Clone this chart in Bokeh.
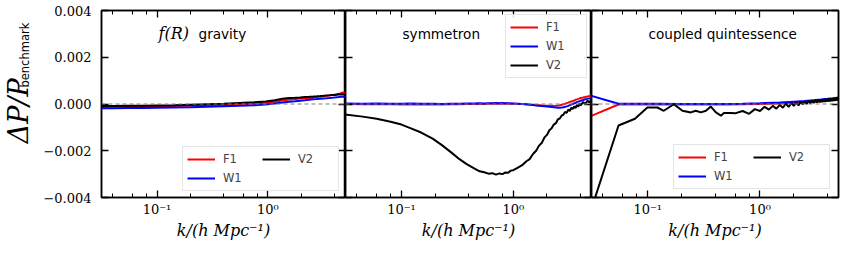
from bokeh.plotting import figure
from bokeh.models import (LogAxis, LinearAxis, Span, Label, Legend, LegendItem,
                          CustomJSTickFormatter, FixedTicker, LogTicker, Range1d)
from bokeh.layouts import row
from bokeh.embed import file_html
from bokeh.resources import INLINE

# ---------------- data ----------------
X_RANGE = [0.0316, 5.0]
Y_RANGE = [-0.004, 0.004]
Y_TICKS = [-0.004, -0.002, 0.0, 0.002, 0.004]
SERIES_NAMES = ["F1", "W1", "V2"]
PANEL_TITLES = ["gravity", "symmetron", "coupled quintessence"]

# f(R) gravity
K_FR = [0.031, 0.04, 0.055, 0.075, 0.1, 0.14, 0.2, 0.28, 0.4, 0.55, 0.75, 0.95, 1.15, 1.35, 1.55,
        1.75, 1.95, 2.15, 2.35, 2.55, 2.75, 2.95, 3.15, 3.35, 3.55, 3.75, 3.95, 4.15, 4.35, 4.55, 4.75, 4.95]
FR_F1 = [-0.00013, -0.00012, -0.00012, -0.00011, -0.0001, -0.00009, -0.00008, -0.00006, -0.00004, -0.00002,
         0.00001, 0.00005, 0.0001, 0.00015, 0.00019, 0.00021, 0.00023, 0.00025, 0.00026, 0.00028, 0.0003,
         0.00031, 0.00033, 0.00035, 0.00036, 0.00038, 0.0004, 0.00042, 0.00044, 0.00046, 0.00049, 0.00047]
FR_W1 = [-0.00018, -0.00018, -0.00017, -0.00017, -0.00016, -0.00015, -0.00014, -0.00012, -0.0001, -0.00008,
         -0.00005, -0.00002, 0.00002, 0.00006, 0.0001, 0.00012, 0.00014, 0.00016, 0.00018, 0.0002, 0.00021,
         0.00022, 0.00024, 0.00025, 0.00026, 0.00027, 0.00028, 0.00029, 0.0003, 0.00031, 0.00032, 0.00031]
FR_V2 = [-0.00009, -0.00009, -0.00008, -0.00007, -0.00006, -0.00005, -0.00003, -0.00001, 0.00001, 0.00004,
         0.00007, 0.00011, 0.00016, 0.00022, 0.00026, 0.00027, 0.00028, 0.0003, 0.00031, 0.00032, 0.00033,
         0.00034, 0.00035, 0.00036, 0.00037, 0.00038, 0.00039, 0.0004, 0.00041, 0.00041, 0.00042, 0.00042]

# symmetron
K_SY = [0.031, 0.045, 0.06, 0.08, 0.1, 0.12, 0.15, 0.19, 0.23, 0.28, 0.33, 0.38, 0.45, 0.5, 0.55,
        0.6, 0.65, 0.7, 0.75, 0.8, 0.85, 0.9, 0.95, 1.0, 1.1, 1.2, 1.3, 1.4, 1.5, 1.6,
        1.7, 1.8, 1.9, 2.0, 2.1, 2.2, 2.3, 2.4, 2.5, 2.6, 2.7, 2.8, 2.9, 3.0, 3.1,
        3.2, 3.3, 3.4, 3.5, 3.6, 3.7, 3.8, 3.9, 4.0, 4.2, 4.4, 4.6, 4.8, 5.0]
SY_F1 = [0.0, -0.00001, 0.0, -0.00001, -0.00002, -0.00001, -0.00002, -0.00001, -0.00002, -0.00001,
         -0.00001, 0.0, 0.0, 0.00001, 0.0, 0.00001, 0.00001, 0.00002, 0.00001, 0.00002, 0.00001, 0.00002,
         0.00001, 0.00001,
         0.0, 0.0, -0.00001, -0.00002, -0.00003, -0.00004, -0.00005, -0.00006, -0.00007, -0.00007,
         -0.00008, -0.00008, -0.00008, -0.00007, -0.00006, -0.00005, -0.00003, -0.00001, 0.00001, 0.00004,
         0.00006, 0.00009, 0.00011, 0.00013, 0.00015, 0.00018, 0.0002, 0.00022, 0.00024, 0.00026,
         0.00028, 0.0003, 0.00032, 0.00034, 0.00036]
SY_W1 = [0.00002, 0.00001, 0.00002, 0.00001, 0.00001, 0.00002, 0.00001, 0.00001, 0.0, 0.00001,
         0.00001, 0.00002, 0.00002, 0.00003, 0.00002, 0.00003, 0.00003, 0.00004, 0.00003, 0.00004,
         0.00003, 0.00003, 0.00002, 0.00002,
         0.00001, 0.0, -0.00001, -0.00003, -0.00004, -0.00006, -0.00008, -0.00009, -0.0001, -0.00011,
         -0.00012, -0.00013, -0.00014, -0.00015, -0.00016, -0.00016, -0.00015, -0.00014, -0.00012, -0.0001,
         -0.00008, -0.00005, -0.00002, 0.0, 0.00003, 0.00005, 0.00008, 0.0001, 0.00012, 0.00014,
         0.00017, 0.0002, 0.00022, 0.00024, 0.00026]
SY_V2 = [-0.00045, -0.00054, -0.00063, -0.00076, -0.00088, -0.00103, -0.00122, -0.00148, -0.00176, -0.00208,
         -0.00236, -0.00256, -0.00276, -0.00288, -0.00292, -0.00298, -0.00296, -0.00302, -0.00297, -0.003,
         -0.00293, -0.00294, -0.00285, -0.00283, -0.00272, -0.00262, -0.00246, -0.00236, -0.00214, -0.002,
         -0.00178, -0.00166, -0.00143, -0.00132, -0.00112, -0.00104, -0.00088, -0.00082, -0.00066, -0.00062,
         -0.0005, -0.00046, -0.00034, -0.00038, -0.00024, -0.0003, -0.00016, -0.00022, -0.0001, -0.00018,
         -0.00004, -0.00012, 0.00002, -0.00006, 0.00008, 0.0, 0.00014, 0.00006, 0.00022]

# coupled quintessence
K_CQ_SMOOTH = [0.031, 0.055, 0.08, 0.12, 0.2, 0.3, 0.5, 0.7, 1.0, 1.5, 2.0, 2.5, 3.0, 3.5, 4.0, 4.5, 5.0]
CQ_F1 = [-0.00052, -0.00002, -0.00002, -0.00002, -0.00002, -0.00002, -0.00002, -0.00001, 0.0, 0.00002,
         0.00005, 0.00008, 0.0001, 0.00012, 0.00015, 0.00017, 0.0002]
CQ_W1 = [0.00036, 0.00001, 0.00001, 0.00001, 0.0, 0.0, 0.0, 0.00001, 0.00003, 0.00006, 0.0001, 0.00013,
         0.00016, 0.00019, 0.00022, 0.00025, 0.00028]
K_CQ = [0.031, 0.055, 0.077, 0.0994, 0.122, 0.139, 0.171, 0.204, 0.242, 0.268, 0.297, 0.33, 0.365, 0.405,
        0.449, 0.477, 0.551,
        0.6, 0.7, 0.8, 0.9, 1.0, 1.1, 1.2, 1.3, 1.4, 1.5, 1.6, 1.7, 1.8, 1.9, 2.0, 2.1, 2.2, 2.3, 2.4, 2.5,
        2.6, 2.7, 2.8, 2.9, 3.0, 3.1, 3.2, 3.3, 3.4, 3.5, 3.6, 3.7, 3.8, 3.9, 4.0, 4.1, 4.2, 4.3, 4.4, 4.5,
        4.6, 4.7, 4.8, 4.9, 5.0]
CQ_V2 = [-0.0046, -0.00092, -0.00063, -0.00015, -0.00015, -0.00029, -0.00001, -0.00029, -0.00036, -0.00029,
         -0.00036, -0.00029, -0.00011, -0.00036, -0.0005, -0.00039, -0.00039,
         -0.0004, -0.0003, -0.00042, -0.00022, -0.0003, -0.00012, -0.00024, -0.00008, -0.0002, -0.00004,
         -0.00016, 0.00002, -0.00012, 0.00004, -0.00008, 0.00006, -0.00006, 0.0001, -0.00002, 0.00012,
         0.0, 0.00014, 0.00002, 0.00016, 0.00004, 0.00018, 0.00006, 0.00019, 0.00007, 0.0002,
         0.00008, 0.00021, 0.00009, 0.00022, 0.0001, 0.00023, 0.00011, 0.00024, 0.00012, 0.00026,
         0.00013, 0.00027, 0.00014, 0.00028, 0.00016]

COLORS = ["#ff0000", "#0000ff", "#000000"]

# ---------------- styling helpers ----------------
Y_FMT = CustomJSTickFormatter(code="""
const s = Math.abs(tick).toFixed(3);
return (tick < -1e-12 ? "\\u2212" : "") + s;
""")
X_FMT = CustomJSTickFormatter(code="""
const e = Math.round(Math.log10(tick));
const sup = {"-": "\\u207b", "0": "\\u2070", "1": "\\u00b9", "2": "\\u00b2", "3": "\\u00b3",
             "4": "\\u2074", "5": "\\u2075", "6": "\\u2076", "7": "\\u2077", "8": "\\u2078", "9": "\\u2079"};
return "10" + String(e).split("").map(c => sup[c]).join("");
""")

SERIF = "DejaVu Serif"
SANS = "DejaVu Sans"
H = 245


def style_axis(ax, show_labels):
    ax.axis_line_color = "black"
    ax.axis_line_width = 1.5
    ax.major_tick_in = 7
    ax.major_tick_out = 0
    ax.minor_tick_in = 4
    ax.minor_tick_out = 0
    ax.major_tick_line_width = 1.3
    ax.minor_tick_line_width = 1.0
    ax.major_tick_line_color = "black"
    ax.minor_tick_line_color = "black"
    ax.major_label_text_font = SERIF
    if show_labels:
        ax.major_label_text_font_size = "13px"
        ax.major_label_text_color = "black"
    else:
        ax.major_label_text_font_size = "0px"
        ax.major_label_text_color = None
        ax.major_label_standoff = 0


def make_panel(width, bl, br, ks, ys, legend_loc, nrows, show_y, lmargin):
    p = figure(width=width, height=H, x_axis_type="log",
               x_range=Range1d(*X_RANGE), y_range=Range1d(*Y_RANGE),
               output_backend="svg", toolbar_location=None,
               min_border_left=bl, min_border_right=br, min_border_top=10, min_border_bottom=48)
    p.xgrid.visible = False
    p.ygrid.visible = False
    p.outline_line_color = "black"
    p.outline_line_width = 1.5
    p.background_fill_color = "white"
    p.border_fill_color = "white"

    xa = p.xaxis[0]
    xa.ticker = LogTicker()
    xa.formatter = X_FMT
    style_axis(xa, True)
    xa.major_label_standoff = 4
    xa.axis_label = "k/(h Mpc\u207b\u00b9)"
    xa.axis_label_text_font = SERIF
    xa.axis_label_text_font_style = "italic"
    xa.axis_label_text_font_size = "16px"
    xa.axis_label_standoff = 1
    xa.axis_label_text_color = "black"

    ya = p.yaxis[0]
    ya.ticker = FixedTicker(ticks=Y_TICKS, minor_ticks=[])
    ya.formatter = Y_FMT
    style_axis(ya, show_y)
    if show_y:
        ya.major_label_standoff = 10

    top = LogAxis(ticker=LogTicker(), formatter=X_FMT)
    style_axis(top, False)
    p.add_layout(top, "above")
    right = LinearAxis(ticker=FixedTicker(ticks=Y_TICKS, minor_ticks=[]), formatter=Y_FMT)
    style_axis(right, False)
    p.add_layout(right, "right")

    p.add_layout(Span(location=0, dimension="width", line_color="#808080",
                      line_dash="4 3", line_width=1.2))

    items = []
    for name, k, y, c in zip(SERIES_NAMES, ks, ys, COLORS):
        r = p.line(k, y, line_color=c, line_width=2)
        items.append(LegendItem(label=name, renderers=[r]))
    leg = Legend(items=items, location=legend_loc, nrows=nrows,
                 label_text_font=SANS, label_text_font_size="11.5px",
                 glyph_width=28, glyph_height=16, label_height=16, label_width=36,
                 label_standoff=8, spacing=3, padding=4, margin=lmargin,
                 border_line_color="#cccccc", border_line_width=1,
                 background_fill_alpha=0.85)
    p.add_layout(leg)
    return p


# narrow figure that only carries the y-axis label
p0 = figure(width=40, height=H, x_range=Range1d(0, 40), y_range=Range1d(0, H),
            output_backend="svg", toolbar_location=None,
            min_border_left=0, min_border_right=0, min_border_top=0, min_border_bottom=0)
p0.axis.visible = False
p0.xgrid.visible = False
p0.ygrid.visible = False
p0.outline_line_color = None
p0.add_layout(Label(x=18, y=H - 174, text="\u0394P/P",
                    text_font=SERIF, text_font_style="italic", text_font_size="27px",
                    angle=90, angle_units="deg", text_baseline="middle", text_align="left",
                    text_color="black"))
p0.add_layout(Label(x=24, y=H - 101, text="benchmark",
                    text_font=SANS, text_font_size="11.5px",
                    angle=90, angle_units="deg", text_baseline="middle", text_align="left",
                    text_color="black"))

p1 = make_panel(305, 59, 0, [K_FR, K_FR, K_FR], [FR_F1, FR_W1, FR_V2], "bottom_right", 2, True, 6)
p2 = make_panel(246, 0, 0, [K_SY, K_SY, K_SY], [SY_F1, SY_W1, SY_V2], "top_right", 3, False, 4)
p3 = make_panel(249, 0, 2, [K_CQ_SMOOTH, K_CQ_SMOOTH, K_CQ], [CQ_F1, CQ_W1, CQ_V2], "bottom_right", 2, False, 8)

# panel titles
p1.add_layout(Label(x=X_RANGE[0], y=Y_RANGE[1], x_offset=57, y_offset=-23, text="f(R)",
                    text_font=SERIF, text_font_style="italic", text_font_size="16px",
                    text_baseline="alphabetic", text_align="left", text_color="black"))
p1.add_layout(Label(x=X_RANGE[0], y=Y_RANGE[1], x_offset=97, y_offset=-23, text=PANEL_TITLES[0],
                    text_font=SANS, text_font_size="13.6px",
                    text_baseline="alphabetic", text_align="left", text_color="black"))
p2.add_layout(Label(x=X_RANGE[0], y=Y_RANGE[1], x_offset=57, y_offset=-23, text=PANEL_TITLES[1],
                    text_font=SANS, text_font_size="13.6px",
                    text_baseline="alphabetic", text_align="left", text_color="black"))
p3.add_layout(Label(x=X_RANGE[0], y=Y_RANGE[1], x_offset=57, y_offset=-23, text=PANEL_TITLES[2],
                    text_font=SANS, text_font_size="13.6px",
                    text_baseline="alphabetic", text_align="left", text_color="black"))

layout = row(p0, p1, p2, p3)
open("out.html", "w").write(file_html(layout, INLINE))
